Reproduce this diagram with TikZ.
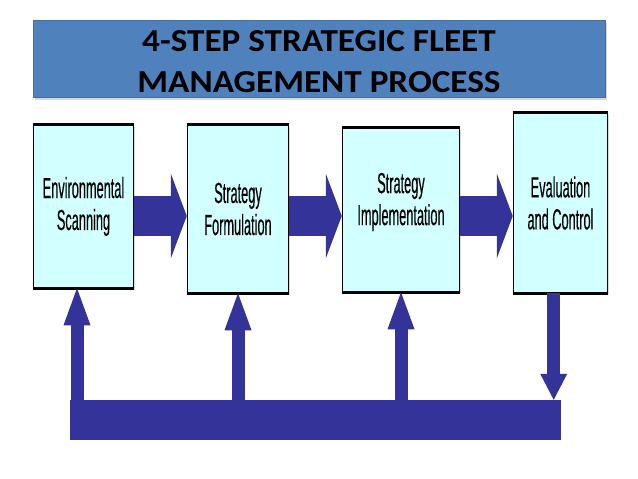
\documentclass[tikz,border=0pt]{standalone}
\usepackage{fontspec}
\usetikzlibrary{arrows.meta}
\usetikzlibrary{shadows}
\newfontfamily\titlefont[FakeStretch=1.1]{Carlito}
\newfontfamily\stepfont[FakeStretch=0.44, FakeBold=0.25]{Liberation Sans}
\definecolor{bannerblue}{HTML}{4F81BD}
\definecolor{stepcyan}{HTML}{D2FFFF}
\definecolor{flowblue}{HTML}{333399}

\begin{document}
\begin{tikzpicture}[
    x=1pt, y=-1pt,
    banner/.style={
      fill=bannerblue,
      draw=bannerblue!85!black,
      line width=0.4pt,
      drop shadow={shadow xshift=1.5pt, shadow yshift=-2.5pt, opacity=0.3},
      align=center,
      font=\titlefont\bfseries\fontsize{32}{41}\selectfont
    },
    stepbox/.style={
      draw=black,
      fill=stepcyan,
      line width=1.5pt,
      drop shadow={shadow xshift=1.5pt, shadow yshift=-1.5pt, opacity=0.3},
      align=center,
      inner sep=0pt,
      font=\stepfont\fontsize{29}{32}\selectfont
    },
    flow/.style={
      draw=flowblue,
      line width=40pt,
      -{Triangle[width=85pt, length=16pt, line width=0pt]}
    },
    feedup/.style={
      draw=flowblue,
      line width=13pt,
      -{Triangle[width=27pt, length=37pt, line width=0pt]}
    },
    feeddown/.style={
      draw=flowblue,
      line width=13pt,
      -{Triangle[width=27pt, length=26pt, line width=0pt]}
    }
  ]

  \useasboundingbox[fill=white] (0,0) rectangle (638,479);

  % title
  \node[banner, minimum width=572pt, minimum height=77pt, text height=68pt, text depth=0pt] (title) at (319,58.5)
    {4-STEP STRATEGIC FLEET\\MANAGEMENT PROCESS};

  % the four steps
  \node[stepbox, minimum width=100pt, minimum height=162pt] (scan) at (83.5,206.5)
    {Environmental\\Scanning};
  \node[stepbox, minimum width=101pt, minimum height=167pt] (form) at (238,209)
    {Strategy\\Formulation};
  \node[stepbox, minimum width=117pt, minimum height=163pt, text depth=22pt] (impl) at (401,210)
    {Strategy\\Implementation};
  \node[stepbox, minimum width=94pt, minimum height=179pt] (eval) at (560.5,203)
    {Evaluation\\and Control};

  \foreach \b in {scan,form,impl,eval}
    \draw[line width=3pt] (\b.north west) -- (\b.north east)
                          (\b.south west) -- (\b.south east);

  \coordinate (row) at (0,216);
  \draw[flow] (scan.east |- row) -- (form.west |- row);
  \draw[flow] (form.east |- row) -- (impl.west |- row);
  \draw[flow] (impl.east |- row) -- (eval.west |- row);

  % feedback loop
  \node[fill=flowblue, inner sep=0pt, minimum width=491pt, minimum height=40pt] (bar) at (315.5,420) {};

  \draw[feeddown] ([xshift=-7.5pt]bar.north east |- eval.south) -- ([xshift=-7.5pt]bar.north east);
  \draw[feedup] ([xshift=-6.5pt]scan.south |- bar.center) -- ([xshift=-6.5pt]scan.south);
  \draw[feedup] (form.south |- bar.center) -- (form.south);
  \draw[feedup] (impl.south |- bar.center) -- (impl.south);

\end{tikzpicture}
\end{document}
